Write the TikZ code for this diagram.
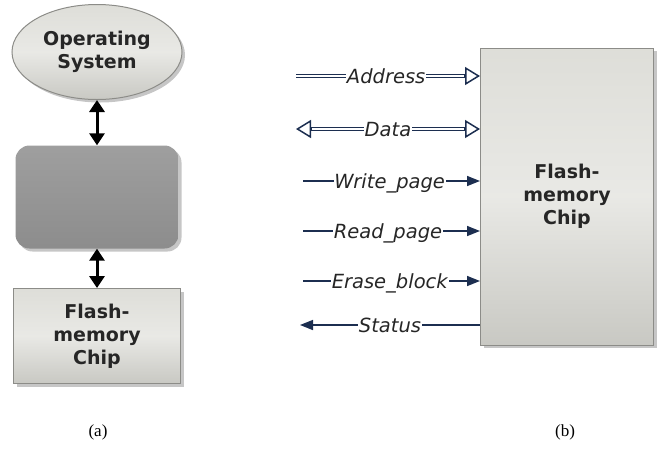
\documentclass[tikz,border=0pt]{standalone}
\usepackage{fontspec}
\setmainfont{Liberation Serif}
\newfontfamily\chipfont{DejaVu Sans}
\usetikzlibrary{arrows.meta,shapes.geometric,shadows,calc}
\definecolor{navy}{RGB}{28,46,80}
\definecolor{boxline}{RGB}{140,140,136}
\definecolor{boxfill}{RGB}{218,218,212}
\definecolor{midgray}{RGB}{148,148,148}

\begin{document}
\begin{tikzpicture}[x=1pt,y=-1pt,
    box/.style = {draw=boxline, line width=1pt, top color=boxfill!90!white, bottom color=boxfill!92!black, middle color=boxfill!60!white,
        font=\chipfont\bfseries\fontsize{19}{23}\selectfont, align=center, text=black!85,
        drop shadow={shadow xshift=3pt, shadow yshift=-3pt, opacity=0.45}},
    os/.style = {box, ellipse, minimum width=170pt, minimum height=95pt, inner sep=0pt},
    layer/.style = {rounded corners=14pt, top color=midgray!90!white, bottom color=midgray!95!black, minimum width=163pt, minimum height=103pt,
        drop shadow={shadow xshift=3pt, shadow yshift=-3pt, opacity=0.45}},
    link/.style = {{Triangle[width=15pt,length=12pt]}-{Triangle[width=15pt,length=12pt]}, line width=3pt},
    sig/.style = {navy, line width=1.5pt},
    bus/.style = {navy, double, double distance=1.6pt, line width=1.4pt},
    hollow/.style = {navy, line width=1.5pt, -{Triangle[fill=white,width=18pt,length=15pt]}},
    lbl/.style = {fill=white, inner sep=1pt, text height=14pt, text depth=0pt,
        font=\chipfont\itshape\fontsize{19.5}{19.5}\selectfont, text=black!85},
    caption/.style = {font=\fontsize{17}{17}\selectfont}]
    \useasboundingbox (0,0) rectangle (667,448);
    % left: stack
    \node[os] (os) at (97,52) {Operating\\System};
    \node[layer] (layer) at (97,197) {};
    \node[box, minimum width=167pt, minimum height=95pt] (flash) at (97,336) {Flash-\\memory\\Chip};
    \draw[link] (os) -- (layer);
    \draw[link] (layer) -- (flash);
    \node[caption] (capa) at (98,432) {(a)};
    % right: chip interface
    \node[box, minimum width=173pt, minimum height=297pt] (chip) at (567,196.5) {Flash-\\memory\\Chip};
    \coordinate (addr) at (296,76);
    \coordinate (data) at (296,129);
    \coordinate (wr) at (303,181);
    \coordinate (rd) at (303,231);
    \coordinate (er) at (303,281);
    \coordinate (st) at (300,325);
    % buses, tips drawn on their own
    \draw[bus, shorten >=14pt] (addr) -- (addr -| chip.west) node[lbl, pos=0.49] {Address};
    \draw[hollow] ($(addr -| chip.west)+(-16,0)$) -- (addr -| chip.west);
    \draw[bus, shorten >=14pt, shorten <=14pt] (data) -- (data -| chip.west) node[lbl, pos=0.5] {Data};
    \draw[hollow] ($(data -| chip.west)+(-16,0)$) -- (data -| chip.west);
    \draw[hollow] ($(data)+(16,0)$) -- (data);
    \draw[sig, -{Triangle[width=10pt,length=13pt]}] (wr) -- (wr -| chip.west) node[lbl, pos=0.49] {Write\_page};
    \draw[sig, -{Triangle[width=10pt,length=13pt]}] (rd) -- (rd -| chip.west) node[lbl, pos=0.48] {Read\_page};
    \draw[sig, -{Triangle[width=10pt,length=13pt]}] (er) -- (er -| chip.west) node[lbl, pos=0.49] {Erase\_block};
    \draw[sig, -{Triangle[width=10pt,length=13pt]}] (st -| chip.west) -- (st) node[lbl, pos=0.5] {Status};
    \node[caption] (capb) at (565,432) {(b)};
\end{tikzpicture}
\end{document}
